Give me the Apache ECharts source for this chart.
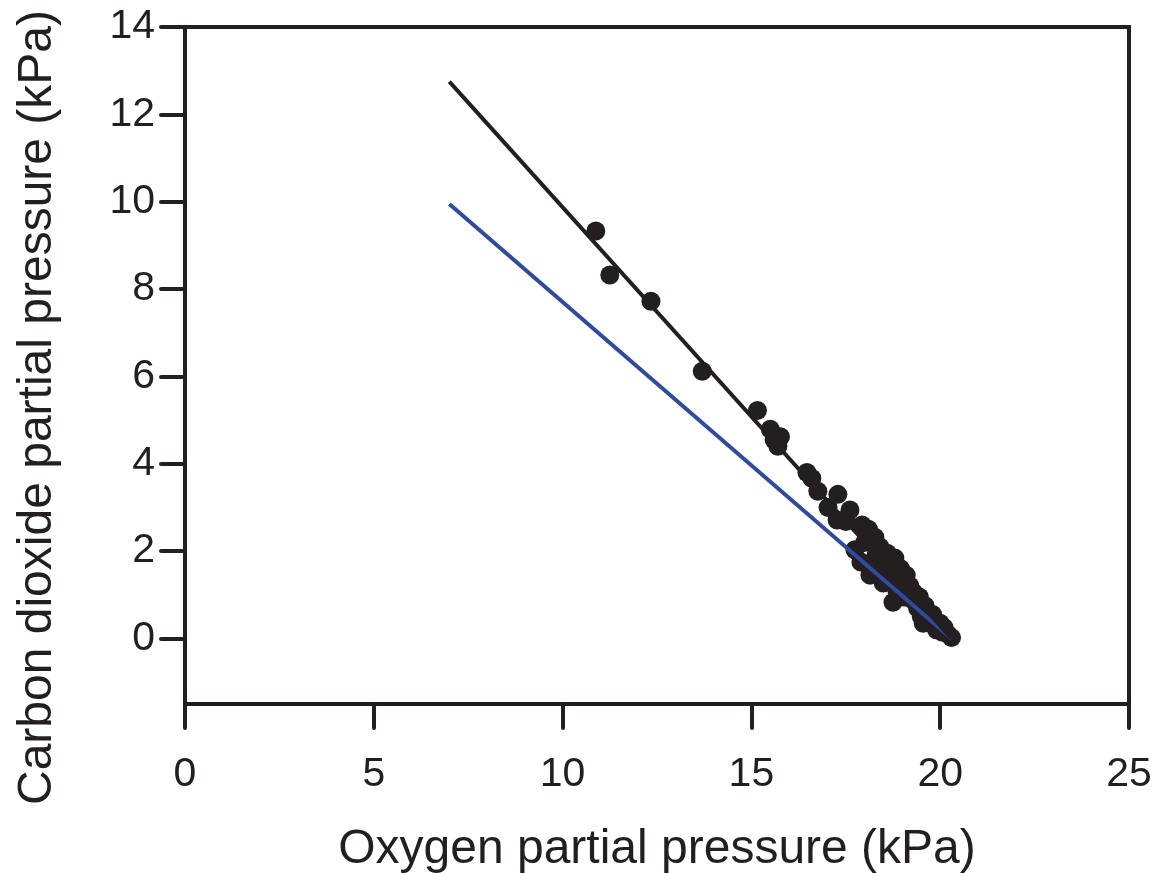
<!DOCTYPE html>
<html>
<head>
<meta charset="utf-8">
<script src="https://cdn.jsdelivr.net/npm/echarts@6/dist/echarts.min.js"></script>
<style>
  html, body { margin: 0; padding: 0; background: #fff; }
  #chart { width: 1167px; height: 873px; }
</style>
</head>
<body>
<div id="chart"></div>
<script>
// measured samples: [O2 kPa, CO2 kPa]
const samples = [
  [10.88, 9.33], [11.25, 8.32], [12.34, 7.72], [13.7, 6.12], [15.16, 5.22],
  [15.5, 4.79], [15.6, 4.55], [15.77, 4.62], [15.7, 4.4],
  [16.47, 3.8], [16.6, 3.67], [16.76, 3.37], [17.03, 3.0], [17.29, 3.3],
  [17.27, 2.71], [17.5, 2.68], [17.61, 2.94], [17.74, 2.03], [17.93, 2.6],
  [18.0, 2.2], [18.1, 2.5], [18.2, 2.25], [18.27, 2.32], [18.14, 1.45],
  [18.3, 1.9], [18.4, 2.1], [18.49, 1.27], [18.55, 1.7], [18.6, 1.95],
  [18.7, 1.5], [18.75, 0.83], [18.8, 1.84], [18.9, 1.3], [18.95, 1.6],
  [19.0, 1.1], [19.1, 1.45], [19.2, 1.2], [19.25, 0.9], [19.3, 1.05],
  [19.4, 0.7], [19.45, 0.95], [19.5, 0.5], [19.6, 0.75], [19.65, 0.6],
  [19.7, 0.4], [19.8, 0.55], [19.85, 0.3], [19.9, 0.2], [20.0, 0.35],
  [20.05, 0.15], [20.1, 0.25], [20.2, 0.1], [20.3, 0.02], [17.9, 1.75],
  [18.45, 1.55], [19.05, 0.95], [18.35, 1.6], [18.85, 1.1], [19.55, 0.35]
];
// fitted line (black) and reference line (blue)
const fitLine = [[7, 12.75], [20.3, 0]];
const refLine = [[7, 9.95], [20.3, 0]];
const xTicks = [0, 5, 10, 15, 20, 25];
const yTicks = [0, 2, 4, 6, 8, 10, 12, 14];

const ink = "#231f20";
const blue = "#2f4b9f";
const font = "Liberation Sans";

const chart = echarts.init(document.getElementById("chart"));
chart.setOption({
  animation: false,
  grid: {
    left: 185,
    top: 27,
    right: 38,
    bottom: 169,
    outerBoundsMode: "none",
    show: true,
    borderColor: ink,
    borderWidth: 4,
  },
  xAxis: {
    type: "value",
    min: 0,
    max: 25,
    interval: 5,
    name: "Oxygen partial pressure (kPa)",
    nameLocation: "middle",
    nameGap: 122,
    nameTextStyle: { fontFamily: font, fontSize: 48, color: ink },
    axisLine: { show: true, onZero: false, lineStyle: { color: ink, width: 4 } },
    axisTick: {
      show: true,
      inside: false,
      length: 24,
      customValues: xTicks,
      lineStyle: { color: ink, width: 4, cap: "round" },
    },
    axisLabel: {
      margin: 50,
      customValues: xTicks,
      fontFamily: font,
      fontSize: 41,
      color: ink,
    },
    splitLine: { show: false },
  },
  yAxis: {
    type: "value",
    min: -1.5,
    max: 14,
    name: "Carbon dioxide partial pressure (kPa)",
    nameLocation: "middle",
    nameGap: 123,
    // title sits lower than the plot centre in the source
    nameTextStyle: { fontFamily: font, fontSize: 48, color: ink, padding: [0, 84, 0, 0] },
    axisLine: { show: true, onZero: false, lineStyle: { color: ink, width: 4 } },
    axisTick: {
      show: true,
      inside: false,
      length: 24,
      customValues: yTicks,
      lineStyle: { color: ink, width: 4, cap: "round" },
    },
    axisLabel: {
      margin: 30,
      customValues: yTicks,
      fontFamily: font,
      fontSize: 41,
      color: ink,
    },
    splitLine: { show: false },
  },
  series: [
    {
      type: "line",
      data: refLine,
      symbol: "none",
      lineStyle: { color: blue, width: 4 },
      z: 3,
    },
    {
      type: "scatter",
      data: samples,
      symbol: "circle",
      symbolSize: 19,
      itemStyle: { color: ink, opacity: 1 },
      z: 2,
    },
    {
      type: "line",
      data: fitLine,
      symbol: "none",
      lineStyle: { color: ink, width: 4 },
      z: 4,
    },
  ],
});
</script>
</body>
</html>
